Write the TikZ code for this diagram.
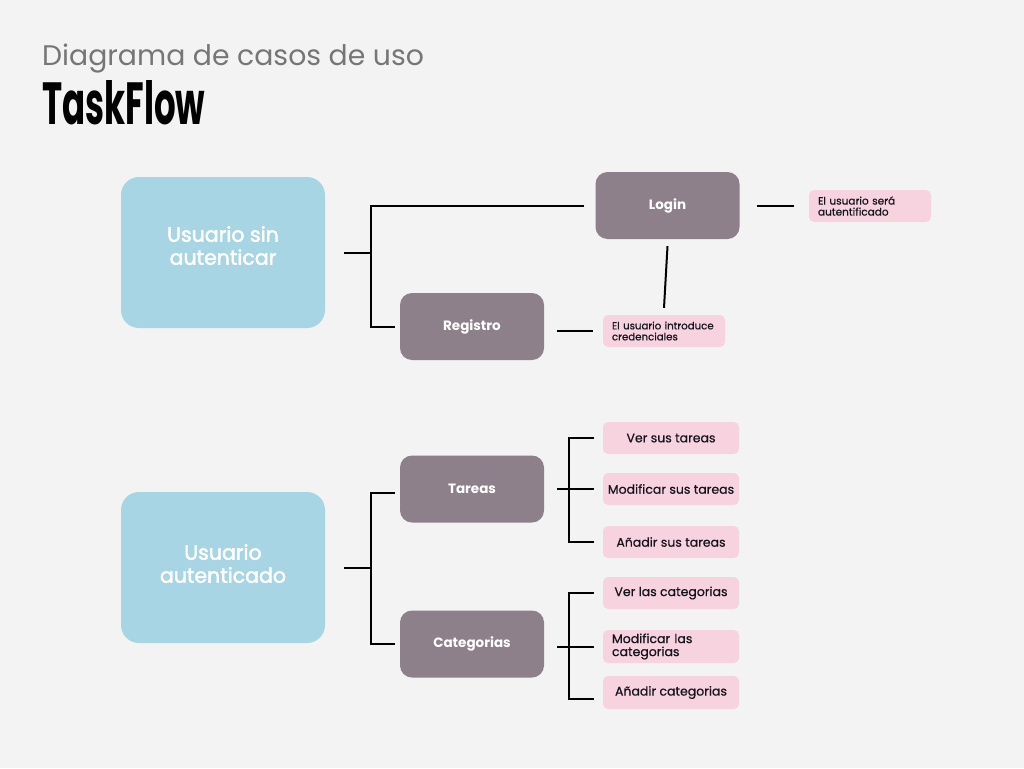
\documentclass[tikz,border=0pt]{standalone}
\usepackage{fontspec}
\setmainfont{Poppins}
\newfontfamily\medfont{Poppins}[FakeBold=2.2]
\newfontfamily\notefont{Poppins}[FakeBold=0.6]
\newfontfamily\lightfont{Poppins}
\usepackage{graphicx}
\definecolor{bg}{HTML}{F3F3F3}
\definecolor{userblue}{HTML}{A7D5E3}
\definecolor{mauve}{HTML}{8D808B}
\definecolor{notepink}{HTML}{F7D3E0}
\definecolor{titlegray}{HTML}{767676}
\definecolor{notetext}{HTML}{15131C}
\begin{document}
\begin{tikzpicture}[x=1pt,y=-1pt,
  user/.style={fill=userblue, rounded corners=18pt, minimum width=204pt, minimum height=151pt, inner sep=0pt},
  usertext/.style={text=white, font=\medfont\fontsize{20.5}{23}\selectfont, align=center, inner sep=0pt},
  act/.style={fill=mauve, rounded corners=12pt, minimum width=144pt, minimum height=67pt,
    text=white, font=\fontsize{13.5}{16}\selectfont\bfseries, inner sep=0pt},
  note/.style={fill=notepink, rounded corners=5pt, minimum width=136pt, minimum height=32pt,
    text=notetext, font=\notefont\fontsize{12.5}{13}\selectfont, inner sep=0pt},
  note2/.style={fill=notepink, rounded corners=5pt, minimum height=32pt, inner xsep=9pt, inner ysep=0pt,
    text=notetext, align=left},
  wire/.style={line width=2pt, black}]
\useasboundingbox[fill=bg] (0,0) rectangle (1024,768);

% titles
\node[anchor=base west, inner sep=0pt, text=titlegray, font=\lightfont\fontsize{28.3}{30}\selectfont] (title) at (42,66) {Diagrama de casos de uso};
\node[anchor=north west, inner sep=0pt] (brand) at (42,80) {\resizebox{163pt}{44pt}{\bfseries TaskFlow}};

% actors
\node[user] (usa) at (223,252.5) {};
\node[usertext] (usat) at ([yshift=7pt]usa.center) {Usuario sin\\autenticar};
\node[user] (ua) at (223,567.5) {};
\node[usertext] (uat) at ([yshift=4pt]ua.center) {Usuario\\autenticado};

% use cases
\node[act] (login) at (667.5,205.5) {Login};
\node[act] (registro) at (472,326.5) {Registro};
\node[act] (tareas) at (472,489) {Tareas};
\node[act] (categorias) at (472,644) {Categorias};

% notes
\node[note2, text width=104pt, font=\notefont\fontsize{10.5}{11}\selectfont] (n1) at (870,206) {El usuario será\\autentificado};
\node[note2, text width=104pt, font=\notefont\fontsize{10.2}{11}\selectfont] (n2) at (664,331) {El usuario introduce\\credenciales};
\node[note] (t1) at (671,438) {Ver sus tareas};
\node[note] (t2) at (671,489) {Modificar sus tareas};
\node[note] (t3) at (671,542) {Añadir sus tareas};
\node[note] (c1) at (671,593) {Ver las categorias};
\node[note2, text width=118pt, minimum height=33pt, font=\notefont\fontsize{12.5}{13}\selectfont] (c2) at (671,646.5) {Modificar las\\categorias};
\node[note, minimum height=33pt] (c3) at (671,692.5) {Añadir categorias};

% connectors: unauthenticated user
\draw[wire] ([xshift=19pt]usa.east) -- ([xshift=46pt]usa.east);
\draw[wire] ([xshift=-11pt]login.west) -| ([xshift=46pt]usa.east) |- ([xshift=-5pt]registro.west);
\draw[wire] ([xshift=13pt]registro.east |- n2.west) -- ([xshift=-10pt]n2.west);
\draw[wire] ([yshift=-7pt]login.south) -- ([yshift=7pt]n2.north);
\draw[wire] ([xshift=17pt]login.east) -- ([xshift=-15pt]login.east -| n1.west);

% connectors: authenticated user
\draw[wire] ([xshift=19pt]ua.east) -- ([xshift=46pt]ua.east);
\draw[wire] ([xshift=-5pt,yshift=-4pt]tareas.west) -| ([xshift=46pt]ua.east) |- ([xshift=-5pt]categorias.west);

\draw[wire] ([xshift=13pt]tareas.east) -- ([xshift=-9pt]t2.west);
\draw[wire] ([xshift=-9pt]t1.west) -| ([xshift=25pt]tareas.east) |- ([xshift=-9pt]t3.west);

\draw[wire] ([xshift=13pt]categorias.east |- c2.west) -- ([xshift=-9pt]c2.west);
\draw[wire] ([xshift=-9pt]c1.west) -| ([xshift=25pt]categorias.east) |- ([xshift=-9pt,yshift=-6pt]c3.west);
\end{tikzpicture}
\end{document}
